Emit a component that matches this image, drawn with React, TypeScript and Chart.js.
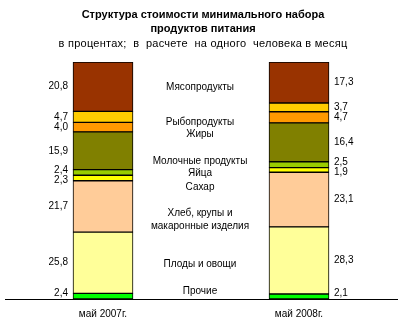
import React, { useEffect, useRef } from "react";
import { Chart, registerables } from "chart.js";

Chart.register(...registerables);

const periods = ["май 2007г.", "май 2008г."];
const groups = [
  "Мясопродукты",
  "Рыбопродукты",
  "Жиры",
  "Молочные продукты",
  "Яйца",
  "Сахар",
  "Хлеб, крупы и макаронные изделия",
  "Плоды и овощи",
  "Прочие",
];
const may2007 = [20.8, 4.7, 4.0, 15.9, 2.4, 2.3, 21.7, 25.8, 2.4];
const may2008 = [17.3, 3.7, 4.7, 16.4, 2.5, 1.9, 23.1, 28.3, 2.1];
const colors = ["#993300", "#FFCC00", "#FF9900", "#808000", "#99CC00", "#FFFF00", "#FFCC99", "#FFFF99", "#00FF00"];

// middle caption lines and their vertical anchor (in % of the stack)
const captionLines = ["Мясопродукты", "Рыбопродукты", "Жиры", "Молочные продукты", "Яйца", "Сахар", "Хлеб, крупы и", "макаронные изделия", "Плоды и овощи", "Прочие"];
const captionAt = [89.4, 74.7, 69.6, 58.2, 53.2, 47.3, 36.3, 30.8, 14.8, 3.4];

const titleLines = ["Структура стоимости минимального набора", "продуктов питания"];
const subtitle = "в процентах;  в  расчете  на одного  человека в месяц";

const FONT = "'Liberation Sans', Arial, sans-serif";

const fmt = (v: number) => v.toFixed(1).replace(".", ",");

const labelsPlugin = {
  id: "customLabels",
  afterDraw(chart: any) {
    const ctx = chart.ctx;
    const area = chart.chartArea;
    const yScale = chart.scales.y;
    ctx.save();
    ctx.fillStyle = "#000";
    // titles
    ctx.textAlign = "center";
    ctx.textBaseline = "middle";
    ctx.font = `bold 11px ${FONT}`;
    ctx.fillText(titleLines[0], 203, 15);
    ctx.fillText(titleLines[1], 203, 29);
    ctx.font = `11px ${FONT}`;
    (ctx as any).letterSpacing = "0.25px";
    ctx.fillText(subtitle, 203, 44);
    (ctx as any).letterSpacing = "0px";

    // captions in the middle
    ctx.font = `10px ${FONT}`;
    const cx = (area.left + area.right) / 2 - 1;
    captionLines.forEach((t, i) => {
      ctx.fillText(t, cx, yScale.getPixelForValue(captionAt[i]));
    });

    // value labels
    for (let col = 0; col < 2; col++) {
      const items: { y: number; text: string; x: number; w: number }[] = [];
      chart.data.datasets.forEach((ds: any, di: number) => {
        const el = chart.getDatasetMeta(di).data[col];
        const v = ds.data[col];
        items.push({ y: (el.y + el.base) / 2, text: fmt(v), x: el.x, w: el.width });
      });
      items.sort((a, b) => a.y - b.y);
      const gap = 10.5;
      for (let it = 0; it < 20; it++) {
        for (let k = 1; k < items.length; k++) {
          const d = items[k].y - items[k - 1].y;
          if (d < gap) {
            const m = (gap - d) / 2;
            items[k - 1].y -= m;
            items[k].y += m;
          }
        }
        const last = items[items.length - 1];
        if (last.y > area.bottom - 6) last.y = area.bottom - 6;
      }
      ctx.textAlign = col === 0 ? "right" : "left";
      items.forEach((it) => {
        const x = col === 0 ? it.x - it.w / 2 - 5 : it.x + it.w / 2 + 5;
        ctx.fillText(it.text, x, it.y);
      });
    }
    ctx.restore();
  },
};

export default function App() {
  const ref = useRef<HTMLCanvasElement>(null);
  useEffect(() => {
    document.body.style.margin = "0";
    const datasets = groups.map((g, i) => ({
      label: g,
      data: [may2007[i], may2008[i]],
      backgroundColor: colors[i],
      borderColor: "#000",
      borderWidth: 1,
      borderSkipped: false,
      barThickness: 60,
    }));
    // bottom of the stack = Прочие
    const ordered = datasets.slice().reverse();
    const chart = new Chart(ref.current!, {
      type: "bar",
      data: { labels: periods, datasets: ordered },
      options: {
        responsive: false,
        animation: false,
        devicePixelRatio: 1,
        layout: { padding: { top: 62, left: 5, right: 11, bottom: 0 } },
        plugins: { legend: { display: false }, title: { display: false }, tooltip: { enabled: false } },
        scales: {
          x: {
            stacked: true,
            grid: { display: false, drawTicks: false },
            border: { display: true, color: "#000", width: 1 },
            ticks: { color: "#000", font: { family: FONT, size: 10 }, padding: 9 },
            afterFit: (s: any) => {
              s.height = 30;
            },
          },
          y: { stacked: true, min: 0, max: 100, display: false },
        },
      },
      plugins: [labelsPlugin],
    });
    return () => chart.destroy();
  }, []);
  return (
    <div style={{ position: "absolute", left: 0, top: 0, width: 408, height: 329, background: "#fff" }}>
      <canvas ref={ref} width={408} height={329} />
    </div>
  );
}
